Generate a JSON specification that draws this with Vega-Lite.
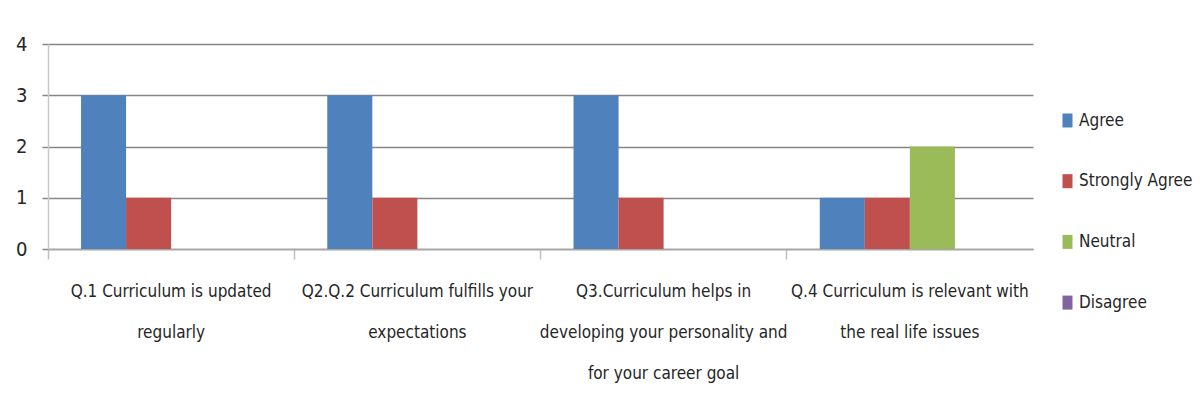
{
  "$schema": "https://vega.github.io/schema/vega-lite/v6.json",
  "width": 985,
  "height": 205,
  "autosize": "none",
  "padding": {"left": 48, "top": 44, "right": 170, "bottom": 160},
  "background": "white",
  "data": {
    "values": [
      {"q": "Q.1 Curriculum is updated|regularly", "resp": "Agree", "n": 3},
      {"q": "Q.1 Curriculum is updated|regularly", "resp": "Strongly Agree", "n": 1},
      {"q": "Q.1 Curriculum is updated|regularly", "resp": "Neutral", "n": 0},
      {"q": "Q.1 Curriculum is updated|regularly", "resp": "Disagree", "n": 0},
      {"q": "Q2.Q.2 Curriculum fulfills your|expectations", "resp": "Agree", "n": 3},
      {"q": "Q2.Q.2 Curriculum fulfills your|expectations", "resp": "Strongly Agree", "n": 1},
      {"q": "Q2.Q.2 Curriculum fulfills your|expectations", "resp": "Neutral", "n": 0},
      {"q": "Q2.Q.2 Curriculum fulfills your|expectations", "resp": "Disagree", "n": 0},
      {"q": "Q3.Curriculum helps in|developing your personality and|for your career goal", "resp": "Agree", "n": 3},
      {"q": "Q3.Curriculum helps in|developing your personality and|for your career goal", "resp": "Strongly Agree", "n": 1},
      {"q": "Q3.Curriculum helps in|developing your personality and|for your career goal", "resp": "Neutral", "n": 0},
      {"q": "Q3.Curriculum helps in|developing your personality and|for your career goal", "resp": "Disagree", "n": 0},
      {"q": "Q.4 Curriculum is relevant with|the real life issues", "resp": "Agree", "n": 1},
      {"q": "Q.4 Curriculum is relevant with|the real life issues", "resp": "Strongly Agree", "n": 1},
      {"q": "Q.4 Curriculum is relevant with|the real life issues", "resp": "Neutral", "n": 2},
      {"q": "Q.4 Curriculum is relevant with|the real life issues", "resp": "Disagree", "n": 0}
    ]
  },
  "mark": {"type": "bar"},
  "encoding": {
    "x": {
      "field": "q",
      "type": "nominal",
      "sort": null,
      "scale": {"paddingInner": 0, "paddingOuter": 0},
      "axis": {
        "title": null,
        "labelAngle": 0,
        "labelExpr": "split(datum.label, '|')",
        "labelFont": "DejaVu Sans Condensed, sans-serif",
        "labelFontSize": 17,
        "labelLineHeight": 41,
        "labelColor": "#262626",
        "labelPadding": 24,
        "labelLimit": 400,
        "labelOverlap": false,
        "bandPosition": 0,
        "tickSize": 10,
        "tickColor": "#bfbfbf",
        "tickWidth": 1.5,
        "domainColor": "#a6a6a6",
        "domainWidth": 1.5,
        "grid": false
      }
    },
    "xOffset": {
      "field": "resp",
      "type": "nominal",
      "sort": ["Agree", "Strongly Agree", "Neutral", "Disagree"],
      "scale": {"paddingInner": 0, "paddingOuter": 0.733}
    },
    "y": {
      "field": "n",
      "type": "quantitative",
      "scale": {"domain": [0, 4], "nice": false},
      "axis": {
        "title": null,
        "values": [0, 1, 2, 3, 4],
        "labelOverlap": false,
        "labelFont": "DejaVu Sans Condensed, sans-serif",
        "labelFontSize": 20,
        "labelColor": "#262626",
        "labelPadding": 15,
        "tickSize": 6,
        "tickColor": "#868686",
        "tickWidth": 1.5,
        "domainColor": "#c8c8c8",
        "domainWidth": 1.5,
        "grid": true,
        "gridColor": "#868686",
        "gridWidth": 1.5
      }
    },
    "color": {
      "field": "resp",
      "type": "nominal",
      "sort": ["Agree", "Strongly Agree", "Neutral", "Disagree"],
      "scale": {
        "domain": ["Agree", "Strongly Agree", "Neutral", "Disagree"],
        "range": ["#4F81BD", "#C0504D", "#9BBB59", "#8064A2"]
      },
      "legend": {
        "title": null,
        "orient": "none",
        "legendX": 1011,
        "legendY": 68,
        "symbolType": "M-0.714,-1H0.714V1H-0.714Z",
        "symbolSize": 196,
        "symbolStrokeWidth": 0,
        "symbolOpacity": 1,
        "labelFont": "DejaVu Sans Condensed, sans-serif",
        "labelFontSize": 17,
        "labelColor": "#262626",
        "labelOffset": 3,
        "labelLimit": 200,
        "rowPadding": 42.7
      }
    }
  },
  "config": {
    "view": {"stroke": null},
    "axis": {"domainCap": "butt"}
  }
}
